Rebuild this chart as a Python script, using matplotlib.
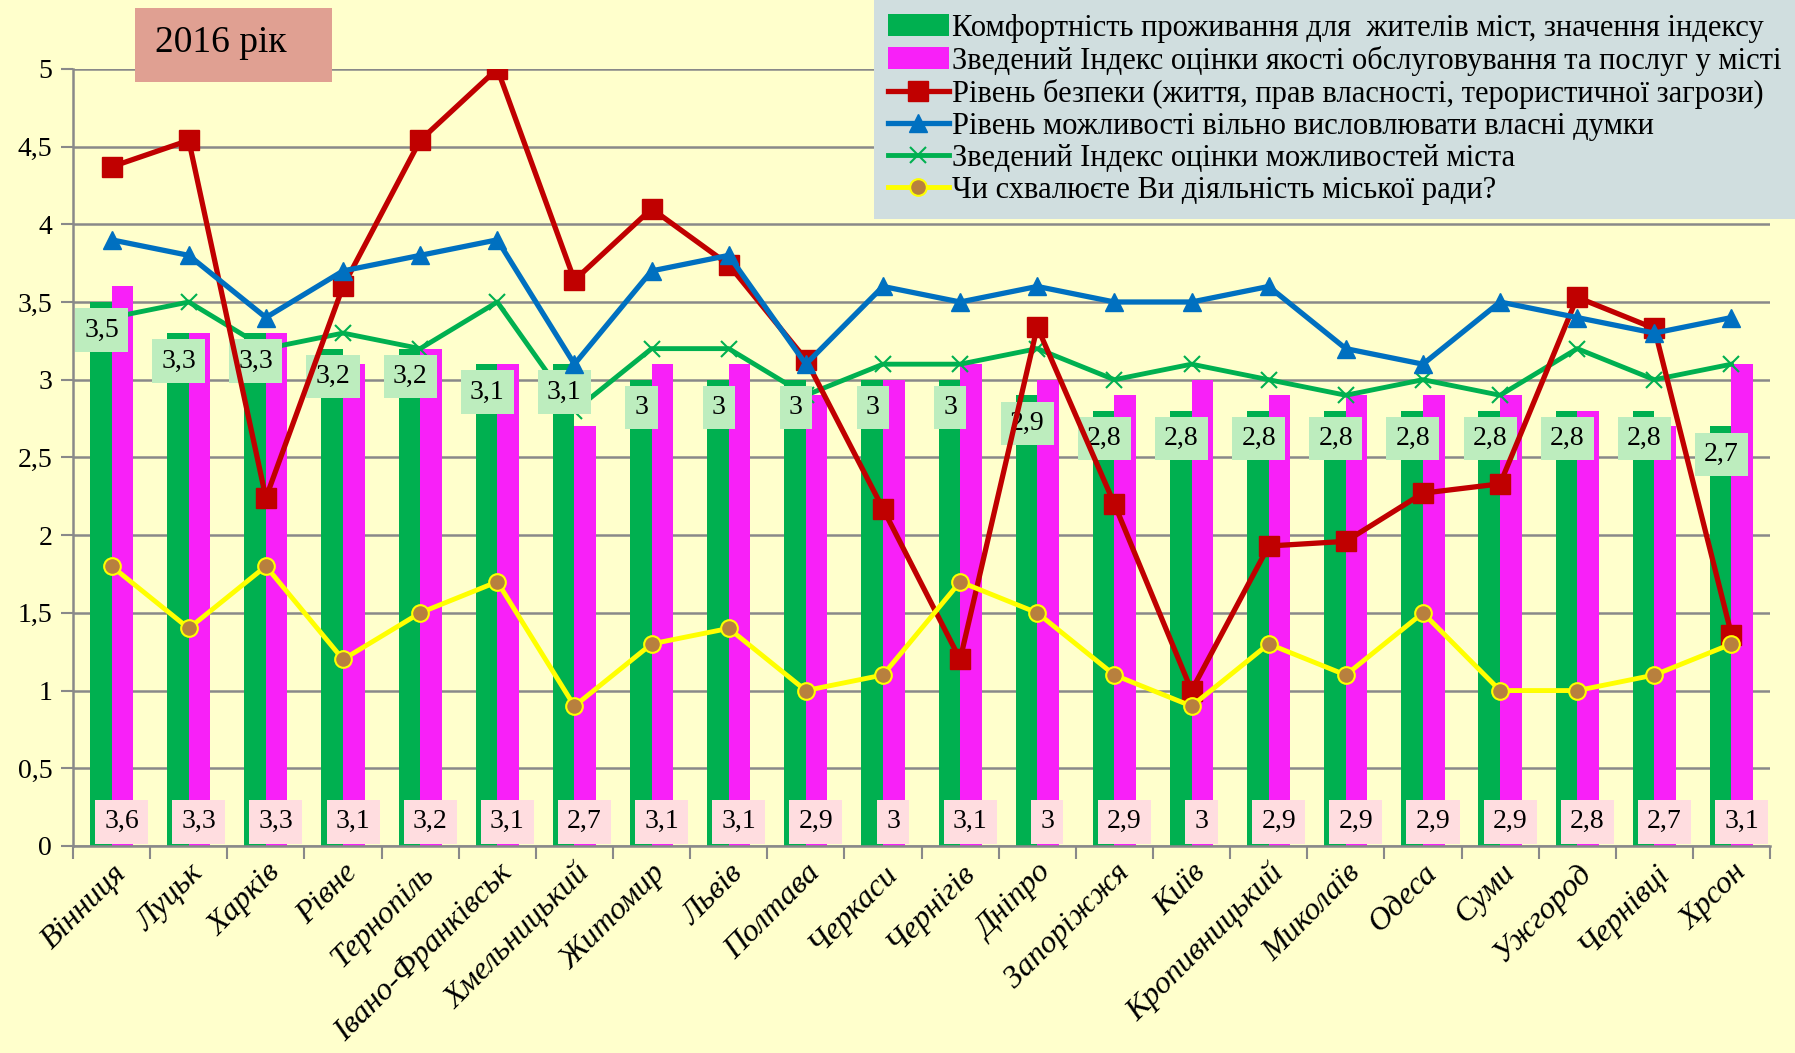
import numpy as np
import matplotlib
matplotlib.use('Agg')
from matplotlib import pyplot as plt
from matplotlib.patches import Rectangle

plt.rcParams['font.family'] = ['Liberation Serif', 'DejaVu Serif']

cities = ['Вінниця', 'Луцьк', 'Харків', 'Рівне', 'Тернопіль', 'Івано-Франківськ',
          'Хмельницький', 'Житомир', 'Львів', 'Полтава', 'Черкаси', 'Чернігів',
          'Дніпро', 'Запоріжжя', 'Київ', 'Кропивницький', 'Миколаїв', 'Одеса',
          'Суми', 'Ужгород', 'Чернівці', 'Хрсон']

comfort = [3.5, 3.3, 3.3, 3.2, 3.2, 3.1, 3.1, 3, 3, 3, 3, 3, 2.9, 2.8, 2.8, 2.8,
           2.8, 2.8, 2.8, 2.8, 2.8, 2.7]
services = [3.6, 3.3, 3.3, 3.1, 3.2, 3.1, 2.7, 3.1, 3.1, 2.9, 3, 3.1, 3, 2.9, 3,
            2.9, 2.9, 2.9, 2.9, 2.8, 2.7, 3.1]
safety = [4.37, 4.54, 2.24, 3.6, 4.54, 5.0, 3.64, 4.1, 3.74, 3.13, 2.17, 1.2,
          3.34, 2.2, 1.0, 1.93, 1.96, 2.27, 2.33, 3.53, 3.33, 1.36]
speech = [3.9, 3.8, 3.4, 3.7, 3.8, 3.9, 3.1, 3.7, 3.8, 3.1, 3.6, 3.5, 3.6, 3.5,
          3.5, 3.6, 3.2, 3.1, 3.5, 3.4, 3.3, 3.4]
opportunity = [3.4, 3.5, 3.2, 3.3, 3.2, 3.5, 2.8, 3.2, 3.2, 2.9, 3.1, 3.1, 3.2,
               3.0, 3.1, 3.0, 2.9, 3.0, 2.9, 3.2, 3.0, 3.1]
approval = [1.8, 1.4, 1.8, 1.2, 1.5, 1.7, 0.9, 1.3, 1.4, 1.0, 1.1, 1.7, 1.5, 1.1,
            0.9, 1.3, 1.1, 1.5, 1.0, 1.0, 1.1, 1.3]

names = ['Комфортність проживання для  жителів міст, значення індексу',
         'Зведений Індекс оцінки якості обслуговування та послуг у місті',
         'Рівень безпеки (життя, прав власності, терористичної загрози)',
         'Рівень можливості вільно висловлювати власні думки',
         'Зведений Індекс оцінки можливостей міста',
         'Чи схвалюєте Ви діяльність міської ради?']

yticks = np.arange(0, 5.01, 0.5)


def fmt(v):
    return f'{v:g}'.replace('.', ',')


bg = '#FFFFCC'
grey = '#898989'

fig = plt.figure(figsize=(17.95, 10.53), dpi=100)
fig.patch.set_facecolor(bg)
ax = fig.add_axes([0.0407, 0.1966, 0.9454, 0.738])
ax.set_facecolor(bg)

x = np.arange(len(cities))
w = 0.28
ax.bar(x - w / 2, comfort, w, color='#00B050', zorder=2, label=names[0])
ax.bar(x + w / 2, services, w, color='#F820F8', zorder=2, label=names[1])

ax.plot(x, opportunity, color='#00B050', lw=3.5, marker='x', ms=11, mew=1.5,
        zorder=3, label=names[4])
ax.plot(x, safety, color='#C00000', lw=3.8, marker='s', ms=14, zorder=5,
        label=names[2])
ax.plot(x, speech, color='#0070C0', lw=3.8, marker='^', ms=13, zorder=6,
        label=names[3])
ax.plot(x, approval, color='#FFFF00', lw=3.5, marker='o', ms=12,
        mfc='#B8803E', mec='#FFFF00', mew=1.5, zorder=7, label=names[5])

# data labels
for i, v in enumerate(comfort):
    ax.text(i - 0.13, v - 0.18, fmt(v), ha='center', va='center', fontsize=20,
            bbox=dict(boxstyle='square,pad=0.33', fc='#BDEDBE', ec='none'), zorder=4)
for i, v in enumerate(services):
    ax.text(i + 0.13, 0.155, fmt(v), ha='center', va='center', fontsize=20,
            bbox=dict(boxstyle='square,pad=0.33', fc='#FFDDE0', ec='none'), zorder=4)

ax.set_xlim(-0.5, len(cities) - 0.5)
ax.set_ylim(0, 5)
ax.set_yticks(yticks)
ax.set_yticklabels([fmt(v) for v in yticks], fontsize=20)
ax.set_xticks(x)
ax.set_xticklabels(cities, rotation=45, ha='right', rotation_mode='anchor',
                   fontsize=23, fontstyle='italic')
ax.set_xticks(np.arange(len(cities) + 1) - 0.5, minor=True)
ax.tick_params(axis='x', which='major', length=0, pad=9)
ax.tick_params(axis='x', which='minor', length=9, width=1.5, color=grey)
ax.tick_params(axis='y', length=9, width=1.5, color=grey, pad=6)

ax.yaxis.grid(True, color=grey, lw=1.8)
ax.set_axisbelow(True)
for s in ['top', 'right']:
    ax.spines[s].set_visible(False)
for s in ['left', 'bottom']:
    ax.spines[s].set_color(grey)
    ax.spines[s].set_linewidth(1.8)

h, l = ax.get_legend_handles_labels()
hd = dict(zip(l, h))
leg = ax.legend([hd[n] for n in names], names, loc='upper right',
                bbox_to_anchor=(1, 1), bbox_transform=fig.transFigure,
                borderaxespad=0, fancybox=False, facecolor='#D0DEDF',
                edgecolor='none', framealpha=1, fontsize=22, handlelength=2.0,
                handletextpad=0.1, labelspacing=0.1, borderpad=0.45)
leg.set_zorder(10)

# title box
fig.add_artist(Rectangle((135 / 1795, 1 - 82 / 1053), 197 / 1795, 74 / 1053,
                         transform=fig.transFigure, fc='#E0A092', ec='none', zorder=3))
fig.text(155 / 1795, 1 - 43 / 1053, '2016 рік', va='center', ha='left',
         fontsize=27, zorder=4)

fig.savefig('out.png', dpi=100, facecolor=bg)
